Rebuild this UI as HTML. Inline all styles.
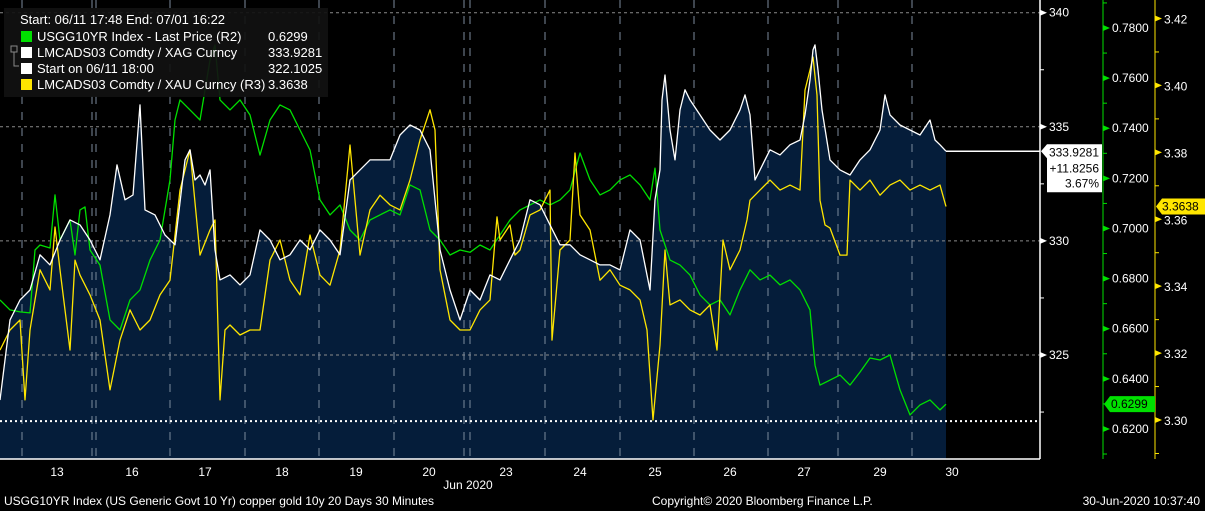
<!DOCTYPE html>
<html><head><meta charset="utf-8">
<style>
html,body{margin:0;padding:0;background:#000;}
svg{display:block;font-family:"Liberation Sans",sans-serif;}
</style></head>
<body>
<svg id="chart" width="1205" height="511" viewBox="0 0 1205 511" xmlns="http://www.w3.org/2000/svg">
<rect x="0" y="0" width="1205" height="511" fill="#000"/>
<g id="grid"></g>
<g id="series"></g>
<g id="axes"></g>
<g id="legend"></g>
</svg>
<script>
// time unit: t (1 day ≈ 7.45 units), white = copper/silver (left axis), green = US10Y (R2), yellow = copper/gold (R3)
const whiteT=[0,1,2,3,4,5,6,7,8,9,10,11,11.7,12.5,13.3,14,14.5,15.5,16.5,17.5,18.5,19,19.5,20,20.5,21,21.5,22,23,24,25,26,27,28,29,30,31,32,33,34,35,36,37,38,39,40,41,42,43,44,45,46,47,48,49,50,51,52,53,54,55,56,57,58,59,60,61,62,63,64,65,65.5,66,66.2,66.5,67,67.5,68,68.5,69,70,71,72,73,74,74.5,75,75.5,76,77,78,79,80,80.5,81,81.3,81.5,81.8,82.2,83,84,85,86,87,88,88.5,89,90,91,92,93,93.5,94,94.6];
const whiteV=[323.03,326.54,327.41,327.85,329.39,328.95,330.04,330.92,330.70,330.04,329.17,331.14,333.33,331.80,332.01,335.96,331.36,331.14,330.26,329.83,333.55,333.99,332.67,332.89,332.45,333.11,329.61,328.29,328.51,328.07,328.51,330.48,330.04,329.17,329.39,330.04,329.61,330.48,330.04,329.39,332.67,333.11,333.55,333.55,333.55,334.64,335.08,334.86,333.99,329.61,327.85,326.54,327.85,327.41,328.51,328.29,329.17,330.04,331.80,331.58,330.70,329.83,329.83,329.39,329.17,328.95,328.95,328.73,330.48,330.04,327.85,331.80,333.11,336.18,337.27,334.86,333.55,335.74,336.62,336.18,335.52,334.86,334.42,334.86,335.74,336.40,335.52,332.67,333.11,333.99,333.77,334.21,334.42,335.52,337.05,338.37,338.59,337.49,335.74,333.55,333.11,332.89,333.55,333.99,334.86,336.40,335.52,335.08,334.86,334.64,335.30,334.42,334.21,333.93];
const greenT=[0,1,2,3,3.5,4,5,5.5,6,7,7.5,8,8.5,9,10,11,12,13,14,15,16,17,17.5,18,19,20,21,21.5,22,23,24,25,26,27,28,29,30,31,32,33,34,35,36,37,38,39,40,41,42,43,44,45,46,47,48,49,50,51,52,53,54,55,56,57,58,59,60,61,62,63,64,65,65.5,66,67,68,69,70,71,72,73,74,75,76,77,78,79,80,81,81.5,82,83,84,85,86,87,88,89,90,91,92,93,94,94.6];
const greenV=[0.6715,0.6675,0.6667,0.6663,0.6914,0.6934,0.6922,0.7134,0.6954,0.7034,0.6894,0.7074,0.7086,0.6914,0.6854,0.6635,0.6595,0.6715,0.6755,0.6874,0.6954,0.7194,0.7433,0.7513,0.7473,0.7433,0.7672,0.7732,0.7513,0.7473,0.7513,0.7453,0.7293,0.7433,0.7493,0.7473,0.7393,0.7313,0.7114,0.7054,0.7094,0.6994,0.6954,0.7034,0.7054,0.7074,0.7054,0.7174,0.7154,0.6994,0.6954,0.6894,0.6914,0.6905,0.6934,0.6914,0.6974,0.7034,0.7074,0.7094,0.7114,0.7094,0.7114,0.7154,0.7301,0.7194,0.7134,0.7154,0.7194,0.7214,0.7174,0.7114,0.7241,0.6994,0.6874,0.6854,0.6814,0.6735,0.6695,0.6715,0.6655,0.6755,0.6835,0.6795,0.6814,0.6775,0.6795,0.6755,0.6675,0.6455,0.6375,0.6395,0.6415,0.6375,0.6427,0.6483,0.6475,0.6495,0.6356,0.6256,0.6296,0.6316,0.6276,0.6299];
const yellowT=[0,1,2,2.5,3,4,5,5.5,6,7,7.5,8,9,10,11,12,13,14,15,16,17,18,19,20,21,21.5,22,22.5,23,24,25,26,27,28,29,30,31,32,33,34,35,36,37,38,39,40,41,42,43,43.5,44,45,46,47,48,49,49.7,50,51,51.5,52,53,54,55,55.2,56,57,57.5,58,59,60,61,62,63,64,64.7,65.3,66,66.5,67,68,69,70,71,71.7,72.3,73,74,74.7,75,76,77,78,79,80,80.5,81,81.3,81.7,82,82.5,83,84,84.7,85,86,87,88,89,90,91,92,93,94,94.6];
const yellowV=[3.3209,3.3269,3.3299,3.3060,3.3269,3.3449,3.3389,3.3577,3.3449,3.3209,3.3478,3.3433,3.3374,3.3299,3.3090,3.3239,3.3329,3.3269,3.3299,3.3374,3.3418,3.3687,3.3807,3.3493,3.3568,3.3598,3.3060,3.3269,3.3284,3.3254,3.3269,3.3269,3.3478,3.3538,3.3418,3.3374,3.3553,3.3433,3.3403,3.3508,3.3822,3.3493,3.3628,3.3672,3.3643,3.3628,3.3717,3.3837,3.3927,3.3867,3.3449,3.3299,3.3269,3.3269,3.3329,3.3359,3.3607,3.3538,3.3583,3.3493,3.3508,3.3613,3.3628,3.3687,3.3239,3.3508,3.3538,3.3798,3.3613,3.3568,3.3418,3.3449,3.3403,3.3389,3.3359,3.3269,3.3000,3.3224,3.3508,3.3344,3.3359,3.3329,3.3314,3.3344,3.3209,3.3538,3.3449,3.3508,3.3598,3.3657,3.3687,3.3717,3.3687,3.3702,3.3687,3.3986,3.4046,3.4085,3.3971,3.3657,3.3583,3.3574,3.3493,3.3493,3.3717,3.3687,3.3717,3.3672,3.3702,3.3717,3.3687,3.3702,3.3687,3.3702,3.3638];
const dayLabels=["13","16","17","18","19","20","23","24","25","26","27","29","30"];
const dayCenterT=[5.7,13.2,20.5,28.2,35.6,42.9,50.6,58.0,65.5,73.0,80.4,88.0,95.2];
const dayBoundT=[2.2,9.2,9.6,17.0,24.5,31.9,39.4,46.4,47.0,54.5,62.0,69.4,76.8,83.8,91.2];
const leftTicks=[325,330,335,340];
const greenTicks=[0.62,0.64,0.66,0.68,0.70,0.72,0.74,0.76,0.78];
const yellowTicks=[3.30,3.32,3.34,3.36,3.38,3.40,3.42];
const startValue=322.1025;
const lastWhite=333.9281, lastGreen=0.6299, lastYellow=3.3638;

const NS="http://www.w3.org/2000/svg";
const PLOT_R=1040, PLOT_B=459;
const xS=t=>t*10;
const yW=v=>12.7+(340-v)*22.82;
const yG=v=>28+(0.78-v)*2506;
const yY=v=>18.5+(3.42-v)*3346;
function mk(tag,attrs,parent){const e=document.createElementNS(NS,tag);for(const k in attrs)e.setAttribute(k,attrs[k]);parent.appendChild(e);return e;}
const grid=document.getElementById('grid'),series=document.getElementById('series'),axes=document.getElementById('axes'),legend=document.getElementById('legend');

let fp="M"+xS(whiteT[0])+","+PLOT_B;
whiteT.forEach((t,i)=>{fp+=" L"+xS(t).toFixed(1)+","+yW(whiteV[i]).toFixed(1);});
fp+=" L"+xS(whiteT[whiteT.length-1])+","+PLOT_B+" Z";
const fill=mk('path',{d:fp,fill:'#051d3a'},grid);



leftTicks.forEach(v=>{
  const l=mk('line',{x1:0,x2:PLOT_R,y1:yW(v),y2:yW(v),stroke:'#8a8a8a','stroke-width':1,'stroke-dasharray':'3,3'},grid);
  
  
});
dayBoundT.forEach(t=>{
  const l=mk('line',{x1:xS(t),x2:xS(t),y1:0,y2:PLOT_B,stroke:'#7c8a9c','stroke-width':1,'stroke-dasharray':'8,8'},grid);
  
  
});
const sl=mk('line',{x1:0,x2:PLOT_R,y1:yW(startValue),y2:yW(startValue),stroke:'#fff','stroke-width':2,'stroke-dasharray':'2,3'},grid);



function line(T,V,ys,col,name){
  const d=T.map((t,i)=>(i?"L":"M")+xS(t).toFixed(1)+","+ys(V[i]).toFixed(1)).join(" ");
  const p=mk('path',{d:d,fill:'none',stroke:col,'stroke-width':1.3,'stroke-linejoin':'round'},series);
  
  
}
line(greenT,greenV,yG,'#00e000','us10y-line');
line(yellowT,yellowV,yY,'#ffe600','copper-gold-line');
line(whiteT,whiteV,yW,'#ffffff','copper-silver-line');
const lw=mk('line',{x1:xS(whiteT[whiteT.length-1]),x2:PLOT_R,y1:yW(lastWhite),y2:yW(lastWhite),stroke:'#fff','stroke-width':1.5},series);



mk('line',{x1:0,x2:PLOT_R,y1:PLOT_B,y2:PLOT_B,stroke:'#fff','stroke-width':1.5},axes);
mk('line',{x1:PLOT_R,x2:PLOT_R,y1:0,y2:PLOT_B,stroke:'#fff','stroke-width':1.5},axes);
mk('line',{x1:1103,x2:1103,y1:0,y2:PLOT_B,stroke:'#00e000','stroke-width':1},axes);
mk('line',{x1:1155,x2:1155,y1:0,y2:PLOT_B,stroke:'#ffe600','stroke-width':1},axes);
function txt(x,y,s,col,anchor,name,size){
  const e=mk('text',{x:x,y:y,fill:col,'font-size':size||12,'text-anchor':anchor||'start'},axes);
  e.textContent=s;
  
  
  return e;
}
leftTicks.forEach(v=>{
  const y=yW(v);
  mk('polygon',{points:`${PLOT_R},${y-3} ${PLOT_R+7},${y} ${PLOT_R},${y+3}`,fill:'#fff'},axes);
  txt(1049,y+4,String(v),'#fff','start','left-tick-label');
  mk('line',{x1:PLOT_R,x2:PLOT_R+4,y1:yW(v-2.5),y2:yW(v-2.5),stroke:'#fff'},axes);
});
greenTicks.forEach(v=>{
  const y=yG(v);
  mk('polygon',{points:`1103,${y-3} 1110,${y} 1103,${y+3}`,fill:'#00e000'},axes);
  txt(1112,y+4,v.toFixed(4),'#fff','start','green-tick-label');
  mk('line',{x1:1103,x2:1107,y1:yG(v+0.01),y2:yG(v+0.01),stroke:'#00e000'},axes);
});
mk('line',{x1:1103,x2:1107,y1:yG(0.61),y2:yG(0.61),stroke:'#00e000'},axes);
yellowTicks.forEach(v=>{
  const y=yY(v);
  mk('polygon',{points:`1155,${y-3} 1162,${y} 1155,${y+3}`,fill:'#ffe600'},axes);
  txt(1164,y+5,v.toFixed(2),'#fff','start','yellow-tick-label');
  mk('line',{x1:1155,x2:1159,y1:yY(v-0.01),y2:yY(v-0.01),stroke:'#ffe600'},axes);
});
dayLabels.forEach((s,i)=>txt(xS(dayCenterT[i]),476,s,'#fff','middle','x-tick-label'));
txt(468,489,'Jun 2020','#fff','middle','x-axis-month');
let y0=yW(lastWhite);
mk('polygon',{points:`1041,${y0} 1047,${y0-7} 1102,${y0-7} 1102,${y0+41} 1047,${y0+41} 1047,${y0+7}`,fill:'#fff'},axes);
txt(1099,y0+5,lastWhite.toFixed(4),'#000','end','white-last-value');
txt(1099,y0+21,'+'+(lastWhite-startValue).toFixed(4),'#000','end','white-change');
txt(1099,y0+36,((lastWhite/startValue-1)*100).toFixed(2)+'%','#000','end','white-change-pct');
y0=yG(lastGreen);
mk('polygon',{points:`1104,${y0} 1110,${y0-8} 1155,${y0-8} 1155,${y0+8} 1110,${y0+8}`,fill:'#00e000'},axes);
txt(1111,y0+4,lastGreen.toFixed(4),'#000','start','green-last-value');
y0=yY(lastYellow);
mk('polygon',{points:`1156,${y0} 1162,${y0-8} 1205,${y0-8} 1205,${y0+8} 1162,${y0+8}`,fill:'#ffe600'},axes);
txt(1162,y0+4,lastYellow.toFixed(4),'#000','start','yellow-last-value');
txt(4,505,'USGG10YR Index (US Generic Govt 10 Yr) copper gold 10y 20 Days 30 Minutes','#fff','start','footer-description');
txt(652,505,'Copyright© 2020 Bloomberg Finance L.P.','#fff','start','copyright');
txt(1200,505,'30-Jun-2020 10:37:40','#fff','end','timestamp');
</script>
<svg style="position:absolute;left:0;top:0" width="340" height="100">
<rect x="4" y="8" width="324" height="89" fill="#111" opacity="0.92"/>
<g font-family="Liberation Sans, sans-serif" font-size="13" fill="#fff">
<text x="20" y="24">Start: 06/11 17:48 End: 07/01 16:22</text>
<rect x="21" y="31" width="11" height="11" fill="#00e000"/>
<text x="37" y="41">USGG10YR Index - Last Price (R2)</text>
<text x="268" y="41">0.6299</text>
<rect x="21" y="47" width="11" height="11" fill="#fff"/>
<text x="37" y="57">LMCADS03 Comdty / XAG Curncy</text>
<text x="268" y="57">333.9281</text>
<rect x="21" y="63" width="11" height="11" fill="#fff"/>
<text x="37" y="73">Start on 06/11 18:00</text>
<text x="268" y="73">322.1025</text>
<rect x="21" y="79" width="11" height="11" fill="#ffe600"/>
<text x="37" y="89">LMCADS03 Comdty / XAU Curncy (R3)</text>
<text x="268" y="89">3.3638</text>
<rect x="11" y="46" width="6" height="6" fill="none" stroke="#888"/>
<path d="M14,52 V66 H19" fill="none" stroke="#888"/>
</g>
</svg>
</body></html>
